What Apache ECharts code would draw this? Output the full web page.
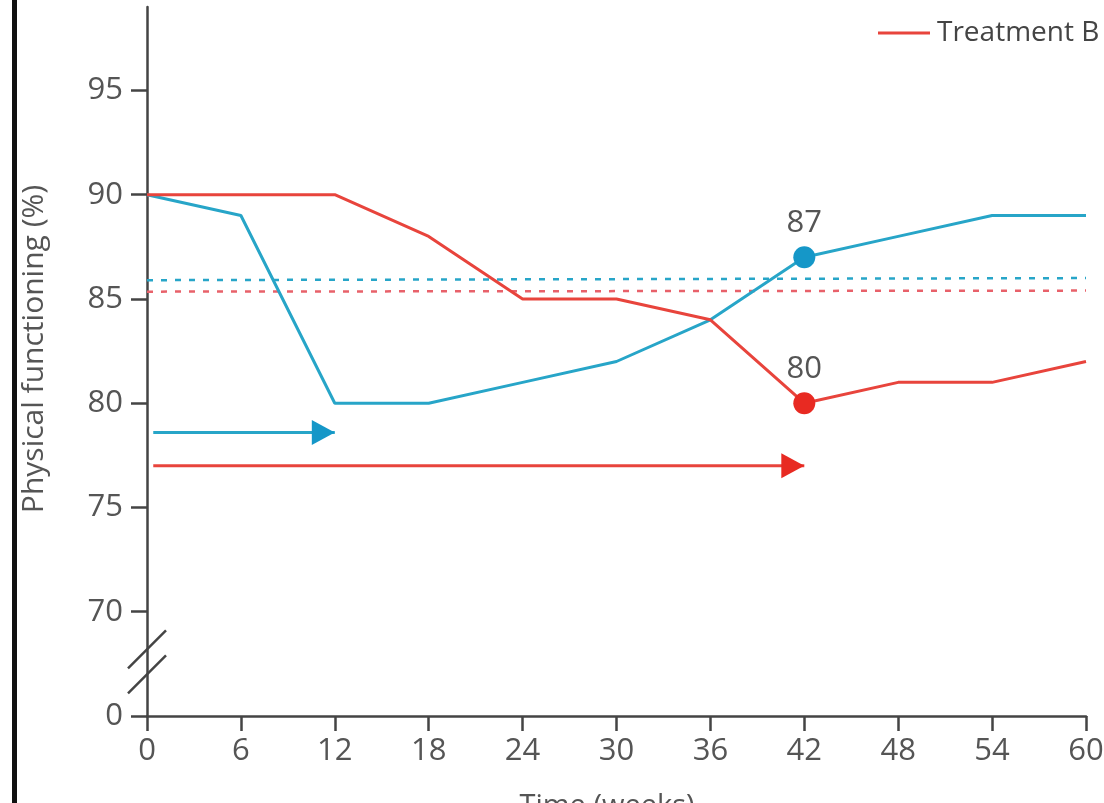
<!DOCTYPE html>
<html>
<head>
<meta charset="utf-8">
<script src="https://cdn.jsdelivr.net/npm/echarts@6/dist/echarts.min.js"></script>
<style>
  html, body { margin: 0; padding: 0; background: #fff; }
  #chart { width: 1104px; height: 803px; }
</style>
</head>
<body>
<div id="chart"></div>
<script>
// Weeks of follow-up
const weeks = [0, 6, 12, 18, 24, 30, 36, 42, 48, 54, 60];
// Physical functioning (%) per arm
const treatmentA = [90, 89, 80, 80, 81, 82, 84, 87, 88, 89, 89];
const treatmentB = [90, 90, 90, 88, 85, 85, 84, 80, 81, 81, 82];
// Mean level over the whole period (dashed reference lines)
const meanWeeks = [0, 60];
const meanA = [85.9, 86.0];
const meanB = [85.35, 85.4];
// Time spent below baseline (arrows): start week, end week, drawn level
const arrowWeeksA = [0.4, 12];
const arrowLevelA = 78.6;
const arrowWeeksB = [0.4, 42];
const arrowLevelB = 77;
// Week whose values are marked and labelled
const markedWeek = 42;
// Y axis: the bottom position stands for 0 (axis is broken below 70)
const yTicks = [65, 70, 75, 80, 85, 90, 95];
const yTickText = ['0', '70', '75', '80', '85', '90', '95'];
const xTicks = [0, 6, 12, 18, 24, 30, 36, 42, 48, 54, 60];
// Axis titles
const xTitle = 'Time (weeks)';
const yTitle = 'Physical functioning (%)';

const BLUE = '#27a5c8';
const BLUE_DOT = '#1597c8';
const RED = '#e8443c';
const RED_DOT = '#e82a22';
const AXIS = '#444';
const TEXT = '#555';
const FONT = '"Open Sans", "Noto Sans", sans-serif';

function lineData(xs, ys, dotColor) {
  return xs.map((x, i) => {
    if (x !== markedWeek) return [x, ys[i]];
    return {
      value: [x, ys[i]],
      symbol: 'circle',
      symbolSize: 22,
      itemStyle: { color: dotColor },
      label: {
        show: true, position: 'top', distance: 8,
        formatter: p => String(p.value[1]),
        fontSize: 31, color: TEXT, fontFamily: FONT
      }
    };
  });
}

function arrowData(xs, level) {
  return [
    { value: [xs[0], level], symbol: 'none' },
    { value: [xs[1], level], symbol: 'triangle', symbolSize: [25, 23],
      symbolRotate: -90, symbolOffset: [-11.5, 0] }
  ];
}

const chart = echarts.init(document.getElementById('chart'));

chart.setOption({
  animation: false,
  backgroundColor: '#fff',
  grid: { left: 147, right: 18, top: 7, bottom: 87, outerBoundsMode: 'none', containLabel: false },
  legend: {
    data: [{ name: 'Treatment B', icon: 'rect' }],
    left: 873, top: 14,
    itemWidth: 52, itemHeight: 3,
    textStyle: { fontSize: 28, color: AXIS, fontFamily: FONT, padding: [0, 0, 0, 2] }
  },
  xAxis: {
    type: 'value', min: 0, max: 60, interval: 6,
    axisLine: { lineStyle: { color: AXIS, width: 2.5 } },
    axisTick: { length: 15, lineStyle: { color: AXIS, width: 2.5 }, customValues: xTicks },
    axisLabel: { fontSize: 31, color: TEXT, fontFamily: FONT, margin: 20, customValues: xTicks },
    splitLine: { show: false }
  },
  yAxis: {
    type: 'value', min: 65, max: 99, interval: 5,
    axisLine: { show: true, lineStyle: { color: AXIS, width: 2.5 } },
    axisTick: { show: true, length: 16, lineStyle: { color: AXIS, width: 2.5 }, customValues: yTicks },
    axisLabel: {
      fontSize: 31, color: TEXT, fontFamily: FONT, margin: 24, customValues: yTicks,
      formatter: v => yTickText[yTicks.indexOf(v)]
    },
    splitLine: { show: false }
  },
  series: [
    {
      name: 'Treatment A mean', type: 'line', symbol: 'none', silent: true,
      data: meanWeeks.map((w, i) => [w, meanA[i]]),
      lineStyle: { color: BLUE, width: 2.5, type: [6, 8] }
    },
    {
      name: 'Treatment B mean', type: 'line', symbol: 'none', silent: true,
      data: meanWeeks.map((w, i) => [w, meanB[i]]),
      lineStyle: { color: '#e8616a', width: 2.5, type: [6, 8] }
    },
    {
      name: 'Treatment A time', type: 'line', silent: true,
      data: arrowData(arrowWeeksA, arrowLevelA),
      lineStyle: { color: BLUE, width: 3 }, itemStyle: { color: BLUE_DOT }
    },
    {
      name: 'Treatment B time', type: 'line', silent: true,
      data: arrowData(arrowWeeksB, arrowLevelB),
      lineStyle: { color: RED, width: 3 }, itemStyle: { color: RED_DOT }
    },
    {
      name: 'Treatment A', type: 'line', symbol: 'none', z: 3,
      data: lineData(weeks, treatmentA, BLUE_DOT),
      lineStyle: { color: BLUE, width: 3 }, itemStyle: { color: BLUE }
    },
    {
      name: 'Treatment B', type: 'line', symbol: 'none', z: 4,
      data: lineData(weeks, treatmentB, RED_DOT),
      lineStyle: { color: RED, width: 3 }, itemStyle: { color: RED }
    }
  ]
});

// Decorations: page edge bar, axis titles and the axis-break marks on the y axis
function drawDecor() {
  const x0 = chart.convertToPixel({ xAxisIndex: 0 }, 0);
  const yA = chart.convertToPixel({ yAxisIndex: 0 }, 68.2);
  const yB = chart.convertToPixel({ yAxisIndex: 0 }, 67.0);
  const brk = (yc) => ({
    type: 'line', silent: true,
    shape: { x1: x0 - 19, y1: yc + 19, x2: x0 + 19, y2: yc - 19 },
    style: { stroke: AXIS, lineWidth: 2.5 }
  });
  chart.setOption({
    graphic: [
      { type: 'rect', silent: true, shape: { x: 12, y: 0, width: 5, height: 803 }, style: { fill: '#111' } },
      brk(yA),
      brk(yB),
      {
        type: 'text', silent: true, x: 34, y: 349, rotation: Math.PI / 2,
        style: { text: yTitle, font: '30px ' + FONT, fill: TEXT, align: 'center', verticalAlign: 'middle' }
      },
      {
        type: 'text', silent: true, x: 607, y: 792,
        style: { text: xTitle, font: '29px ' + FONT, fill: TEXT, align: 'center', verticalAlign: 'top' }
      }
    ]
  });
}
drawDecor();
</script>
</body>
</html>
